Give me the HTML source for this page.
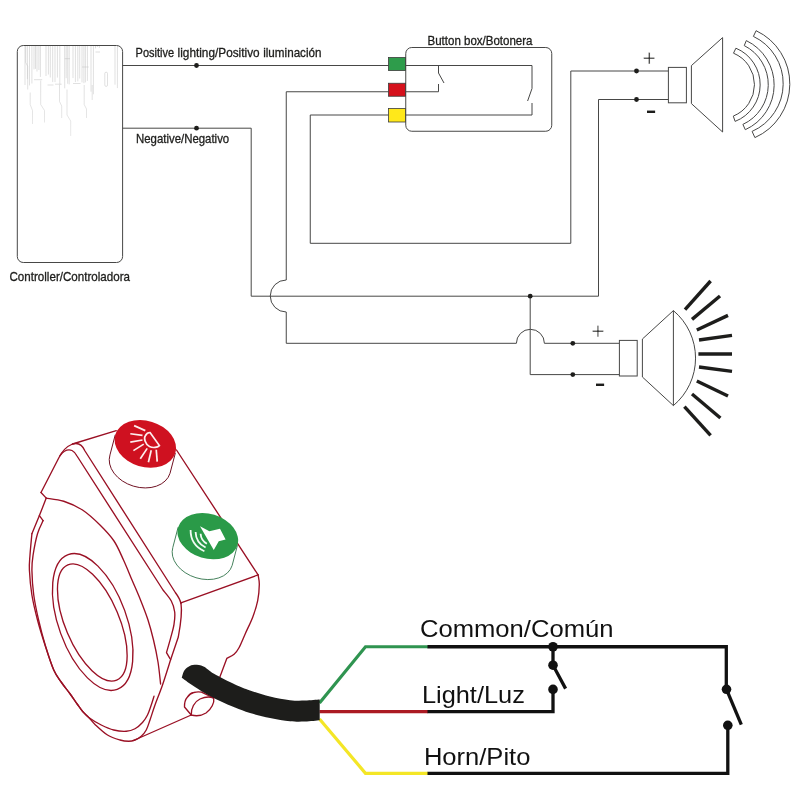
<!DOCTYPE html>
<html lang="en">
<head>
<meta charset="utf-8">
<title>Wiring diagram</title>
<style>
html,body{margin:0;padding:0;background:#fff;}
body{width:800px;height:800px;overflow:hidden;}
svg{display:block;}
svg{will-change:transform;}
.w{fill:none;stroke:#474746;stroke-width:1;}
.t1{font-family:"Liberation Sans",sans-serif;font-size:12.2px;fill:#1d1d1b;stroke:#1d1d1b;stroke-width:0.3px;}
.t2{font-family:"Liberation Sans",sans-serif;font-size:24.5px;fill:#111;}
.pm{font-family:"Liberation Sans",sans-serif;font-size:23px;fill:#1d1d1b;stroke:#fff;stroke-width:0.45px;}
.mn{font-family:"Liberation Sans",sans-serif;font-size:20px;font-weight:bold;fill:#1d1d1b;}
.k{fill:none;stroke:#111;stroke-width:3.3;stroke-linejoin:miter;}
.r{fill:none;stroke:#9a1024;stroke-width:1.35;stroke-linejoin:round;stroke-linecap:round;}
.ray{fill:none;stroke:#1d1d1b;stroke-width:3.4;}
</style>
</head>
<body>
<svg width="800" height="800" viewBox="0 0 800 800">
<rect width="800" height="800" fill="#fff"/>
<defs><linearGradient id="pg" gradientUnits="userSpaceOnUse" x1="0" y1="45" x2="0" y2="135"><stop offset="0" stop-color="#bcbcbc"/><stop offset="0.5" stop-color="#c4c4c4"/><stop offset="1" stop-color="#d2d2d2"/></linearGradient></defs>

<!-- ===== controller ===== -->
<g id="controller">
<g id="pcb" fill="none" stroke="url(#pg)" stroke-width="0.5">
<path d="M25.0 46.0V85.0M27.4 46.0V79.1M29.5 46.0V85.4M31.9 46.0V83.5M34.0 46.0V69.4M35.5 46.0V68.9M37.0 46.0V71.5M38.9 46.0V70.0M40.4 46.0V76.9M46.0 46.0V76.0M48.4 46.0V74.5M50.3 46.0V77.5M52.7 46.0V82.1M55.0 46.0V82.1M57.4 46.0V77.6M59.8 46.0V84.8M64.7 46.0V88.3M66.2 46.0V78.2M67.7 46.0V83.8M69.2 46.0V84.4M73.0 46.0V78.1M75.4 46.0V82.1M77.8 46.0V81.4M79.7 46.0V78.5M82.0 46.0V82.4M83.9 46.0V83.2M85.4 46.0V82.4M87.4 46.0V80.9M91.0 46.0V91.7M93.4 46.0V94.3M95.5 46.0V48.4M97.4 46.0V47.0M99.4 46.0V47.8M115.0 46.0V84.7M117.4 46.0V88.1M25.7 46.0L25.7 62.5L27.7 66.2L27.7 89.5M30.2 92.5L30.2 104.5L32.5 110.5L32.5 124.0M40.7 80.5L40.7 104.5L44.5 110.5L44.5 122.5M59.5 85.0L59.5 101.5L61.7 106.0L61.7 118.0M67.0 89.5L67.0 115.0L70.7 121.0L70.7 136.0M84.2 85.0L84.2 104.5L86.5 109.0L86.5 118.0M92.2 85.0L92.2 100.0M47.5 85.0H53.5M34.0 79.7H42.2M73.0 83.5H80.5M55.0 84.2H61.7M64.7 58.7H70.0M95.5 52.0H100.0M82.0 67.0H88.7"/>
<rect x="104.8" y="72.2" width="2.7" height="14.2" rx="1.3"/>
</g>
<rect x="17.3" y="45.5" width="105.3" height="217" rx="6" ry="6" class="w"/>
</g>
<text class="t1" x="9.5" y="280.5" textLength="120.5" lengthAdjust="spacingAndGlyphs">Controller/Controladora</text>
<text class="t1" y="57"><tspan x="135.6" textLength="41.5" lengthAdjust="spacingAndGlyphs">Positive </tspan><tspan x="177.6" textLength="85.3" lengthAdjust="spacingAndGlyphs">lighting/Positivo </tspan><tspan x="263.2" textLength="58.3" lengthAdjust="spacingAndGlyphs">iluminación</tspan></text>
<text class="t1" x="136" y="142.8" textLength="93.2" lengthAdjust="spacingAndGlyphs">Negative/Negativo</text>
<text class="t1" x="427.5" y="45" textLength="105" lengthAdjust="spacingAndGlyphs">Button box/Botonera</text>

<!-- ===== wires ===== -->
<g id="wires" class="w">
<path d="M122.5 65.5H388.5"/>
<path d="M122.5 128.2H251.2V296.2H598.5V99.5H668.4"/>
<path d="M388.5 91.75H286.25V280A16 16 0 0 0 286.25 312V343.3H516.4A14 14 0 0 1 544.4 343.3H619"/>
<path d="M388.5 115H310.25V243.3H570.8V71H668.4"/>
<path d="M530.2 296.2V374.6H619"/>
</g>
<g id="dots" fill="#1d1d1b">
<circle cx="196.5" cy="65.5" r="2.4"/>
<circle cx="196.5" cy="128.2" r="2.4"/>
<circle cx="636.5" cy="71" r="2.4"/>
<circle cx="636.5" cy="99.5" r="2.4"/>
<circle cx="530.2" cy="296.2" r="2.4"/>
<circle cx="572.8" cy="343.3" r="2.4"/>
<circle cx="572.8" cy="374.6" r="2.4"/>
</g>

<!-- ===== button box ===== -->
<g id="buttonbox">
<rect x="405.75" y="47.5" width="146" height="83.75" rx="6" ry="6" class="w"/>
<rect x="388.5" y="57.5" width="17" height="13" fill="#2e9c4b" stroke="#3c3c3b" stroke-width="0.8"/>
<rect x="388.5" y="83.25" width="17" height="13" fill="#d5111c" stroke="#3c3c3b" stroke-width="0.8"/>
<rect x="388.5" y="108.5" width="17" height="13.5" fill="#ffe81a" stroke="#3c3c3b" stroke-width="0.8"/>
<g class="w">
<path d="M405.5 65.5H532V88.5"/>
<path d="M438.5 65.5V73L444 83"/>
<path d="M405.5 91.75H438.5V84"/>
<path d="M532 88.5L527.6 101"/>
<path d="M405.5 115H532V103"/>
</g>
</g>

<!-- ===== horn ===== -->
<g id="horn" class="w">
<rect x="668.4" y="67.4" width="18" height="35.4"/>
<path d="M691.4 65.6L722.6 37.6V132L691.4 103.6Z"/>
<path d="M733.5 53.2A34 34 0 0 1 733.3 116.1L735.1 121.4A39.5 39.5 0 0 0 735.9 48.2Z"/>
<path d="M744.25 45.6A43.8 43.8 0 0 1 742.9 124.4L745.3 129.7A49.2 49.2 0 0 0 746.3 40.6Z"/>
<path d="M753.4 36.4A52.3 52.3 0 0 1 752.1 131.4L754.9 137.6A58.8 58.8 0 0 0 756.1 30.7Z"/>
</g>
<text class="pm" x="649.2" y="66.3" text-anchor="middle">+</text>
<text class="mn" transform="translate(651 117.3) scale(1.6 1)" text-anchor="middle">-</text>

<!-- ===== lamp ===== -->
<g id="lamp" class="w">
<rect x="619.4" y="340.4" width="17.8" height="35.6"/>
<path d="M642.4 339L673.4 310.6V405.6L642.4 377Z"/>
<path d="M673.4 310.6A62 62 0 0 1 673.4 405.6"/>
</g>
<g id="rays" class="ray">
<path d="M685 309.6L710.6 281"/>
<path d="M692 319.4L720 296"/>
<path d="M696.8 330L728 315.4"/>
<path d="M699 340L732 335.4"/>
<path d="M698.4 354H732"/>
<path d="M699 367L732 371.4"/>
<path d="M696.8 381L728 396"/>
<path d="M692 394L720.4 418"/>
<path d="M684.4 406.6L710.6 435.4"/>
</g>
<text class="pm" x="598" y="339.4" text-anchor="middle">+</text>
<text class="mn" transform="translate(600 390) scale(1.6 1)" text-anchor="middle">-</text>

<!-- ===== bottom schematic ===== -->
<g id="schem">
<path d="M319.5 703L365.5 646.75H428" fill="none" stroke="#2f9450" stroke-width="3.2"/>
<path d="M319.5 711.7H428" fill="none" stroke="#ab1a23" stroke-width="3.2"/>
<path d="M319.5 719L365.5 773.3H428" fill="none" stroke="#f4e626" stroke-width="3.2"/>
<g class="k">
<path d="M427.5 646.75H726.3V689.3"/>
<path d="M427.5 711.7H553V689.4"/>
<path d="M427.5 773.3H727.8V725.3"/>
<path d="M553 646.75V665.2L565.6 688.6"/>
<path d="M726.5 689.3L741.3 724.6"/>
</g>
<g fill="#111">
<circle cx="553" cy="646.75" r="4.8"/>
<circle cx="553" cy="665.2" r="4.8"/>
<circle cx="553" cy="689.4" r="4.8"/>
<circle cx="726.5" cy="689.3" r="4.8"/>
<circle cx="727.8" cy="725.3" r="4.8"/>
</g>
<text class="t2" x="420" y="636.5" textLength="193.5" lengthAdjust="spacingAndGlyphs">Common/Común</text>
<text class="t2" x="421.9" y="702.5" textLength="103" lengthAdjust="spacingAndGlyphs">Light/Luz</text>
<text class="t2" x="423.9" y="765" textLength="106.5" lengthAdjust="spacingAndGlyphs">Horn/Pito</text>
</g>

<!-- ===== device drawing ===== -->
<g id="device">
<g class="r">
<path d="M41 492.5L59 457.5Q64 447.5 72.5 444L116.25 430.6"/>
<path d="M72.5 444Q81 441.5 85 451L175.3 592.5Q179.8 598.5 181 603.5"/>
<path d="M60 455.6Q66 448 72 450.5Q75 452 77 456L163 590C164.38 591.83 169.35 597.33 171.30 601.00C173.25 604.67 174.25 608.10 174.70 612.00C175.15 615.90 174.68 620.05 174.00 624.40C173.32 628.75 171.85 633.40 170.60 638.10C169.35 642.80 167.18 650.18 166.50 652.60L170 658.6"/>
<path d="M181 603.5Q182.6 614 178.3 637L170.6 659.75"/>
<path d="M41 492.5L46.25 498.1"/>
<path d="M46.25 498.10C49.17 498.62 57.71 499.27 63.75 501.25C69.79 503.23 76.46 506.04 82.50 510.00C88.54 513.96 94.75 519.83 100.00 525.00C105.25 530.17 110.08 535.17 114.00 541.00C117.92 546.83 120.50 553.50 123.50 560.00C126.50 566.50 129.17 573.33 132.00 580.00C134.83 586.67 137.83 593.33 140.50 600.00C143.17 606.67 145.83 613.33 148.00 620.00C150.17 626.67 151.83 633.00 153.50 640.00C155.17 647.00 156.82 654.67 158.00 662.00C159.18 669.33 160.17 680.33 160.60 684.00"/>
<path d="M46.25 498.1L39.4 515.6L31.9 533.75"/>
<path d="M31.90 533.75C31.58 537.29 30.42 548.96 30.00 555.00C29.58 561.04 29.08 563.33 29.40 570.00C29.72 576.67 30.55 586.67 31.90 595.00C33.25 603.33 35.32 611.67 37.50 620.00C39.68 628.33 42.29 636.67 45.00 645.00C47.71 653.33 51.00 663.75 53.75 670.00C56.50 676.25 58.79 678.54 61.50 682.50C64.21 686.46 67.33 690.08 70.00 693.75C72.67 697.42 75.42 701.58 77.50 704.50C79.58 707.42 80.62 709.08 82.50 711.25C84.38 713.42 86.67 715.31 88.75 717.50C90.83 719.69 91.88 721.48 95.00 724.40C98.12 727.32 103.33 732.40 107.50 735.00C111.67 737.60 116.46 738.96 120.00 740.00C123.54 741.04 126.25 741.25 128.75 741.25C131.25 741.25 132.92 740.83 135.00 740.00C137.08 739.17 139.38 737.92 141.25 736.25C143.12 734.58 144.79 732.71 146.25 730.00C147.71 727.29 148.54 724.17 150.00 720.00C151.46 715.83 152.92 710.83 155.00 705.00C157.08 699.17 159.90 692.54 162.50 685.00C165.10 677.46 169.25 663.96 170.60 659.75"/>
<path d="M133.5 740.5L191.25 715"/>
<path d="M39.4 515.6L43.1 520.6"/>
<path d="M43.10 520.60C42.17 522.79 39.17 528.02 37.50 533.75C35.83 539.48 34.03 548.96 33.10 555.00C32.17 561.04 31.79 563.33 31.90 570.00C32.01 576.67 32.63 586.67 33.75 595.00C34.87 603.33 36.69 611.67 38.60 620.00C40.51 628.33 42.68 636.67 45.20 645.00C47.73 653.33 51.03 663.75 53.75 670.00C56.47 676.25 58.79 678.54 61.50 682.50C64.21 686.46 67.33 690.08 70.00 693.75C72.67 697.42 75.42 701.58 77.50 704.50C79.58 707.42 80.62 709.08 82.50 711.25C84.38 713.42 85.62 715.21 88.75 717.50C91.88 719.79 97.08 722.92 101.25 725.00C105.42 727.08 109.58 728.96 113.75 730.00C117.92 731.04 122.71 731.46 126.25 731.25C129.79 731.04 132.29 730.21 135.00 728.75C137.71 727.29 140.42 724.79 142.50 722.50C144.58 720.21 146.04 717.92 147.50 715.00C148.96 712.08 150.17 708.12 151.25 705.00C152.33 701.88 153.54 697.71 154.00 696.25"/>
<path d="M176.5 450L258.1 574.9"/>
<path d="M258.1 574.9L180.9 602.8"/>
<path d="M258.10 574.90C258.30 576.48 259.37 580.10 259.30 584.40C259.23 588.70 258.78 595.28 257.70 600.70C256.62 606.12 254.83 611.48 252.80 616.90C250.77 622.32 247.80 628.05 245.50 633.20C243.20 638.35 240.90 644.28 239.00 647.80C237.10 651.32 236.13 652.53 234.10 654.30C232.07 656.07 228.02 657.72 226.80 658.40L219.5 677.9"/>
<path d="M191.25 715L184.5 707Q184.3 700.5 187.5 697Q190 693.3 193.75 692.5Q198 691.3 201.5 692.2L213.5 697.8"/>
<path d="M191.25 715C190.8 708.5 194.5 701.5 200 699C205 696.8 210 696.6 213.7 698C214.6 702.5 211.5 709 206 713C201.5 715.8 196 716.3 191.25 715Z"/>
<ellipse cx="92.7" cy="622" rx="71.7" ry="34" transform="rotate(70 92.7 622)"/>
<ellipse cx="92.3" cy="622.5" rx="62.5" ry="27" transform="rotate(67 92.3 622.5)"/>
</g>
<path d="M115.27 434.72L109.97 454.92A31.40 23.00 17.0 0 0 170.03 473.28L175.33 453.08" fill="#fff" stroke="#701223" stroke-width="1"/>
<ellipse cx="145.3" cy="443.9" rx="31.4" ry="23" transform="rotate(17 145.3 443.9)" fill="#cf1120"/>
<g fill="none" stroke="#fdeeee" stroke-width="1.7" stroke-linecap="butt">
<path d="M150 432.5L159.4 445.6C157.5 447.5 153 448.3 149.5 446.5C145 444 143.5 438 145.5 435.5C146.5 433.5 148 432.5 150 432.5Z"/>
<path d="M134.10 425.60L145.30 430.60"/>
<path d="M130.30 433.75L142.50 435.30"/>
<path d="M130.30 442.20L142.50 440.00"/>
<path d="M133.40 450.60L143.75 444.10"/>
<path d="M140.30 458.75L147.20 448.40"/>
<path d="M148.40 462.20L151.25 450.30"/>
<path d="M157.20 461.60L156.25 449.70"/>
</g>
<path d="M178.15 527.14L172.85 547.34A31.00 22.30 17.0 0 0 232.15 565.46L237.45 545.26" fill="#fff" stroke="#3b7a53" stroke-width="0.95"/>
<ellipse cx="207.8" cy="536.2" rx="31" ry="22.3" transform="rotate(17 207.8 536.2)" fill="#2a9a48"/>
<path d="M200 526.25L209.4 531.25L220 528.75L225.6 539.4L218.75 541.25L213.75 550Z" fill="#fff"/>
<g fill="none" stroke="#f2fbf4" stroke-width="1.8">
<path d="M190.6 530Q190.5 545 204.4 551.25"/>
<path d="M195.6 531.9Q195.8 542.5 205.6 547.5"/>
<path d="M200.6 533.75Q201 540.5 206.9 543.75"/>
</g>
<path d="M181.75 677.75C182.12 676.62 182.88 672.84 184.00 671.00C185.12 669.16 186.75 667.73 188.50 666.70C190.25 665.67 192.00 664.83 194.50 664.80C197.00 664.77 200.25 665.00 203.50 666.50C206.75 668.00 208.75 670.80 214.00 673.80C219.25 676.80 229.00 681.72 235.00 684.50C241.00 687.28 244.17 688.50 250.00 690.50C255.83 692.50 263.33 694.88 270.00 696.50C276.67 698.12 284.17 699.52 290.00 700.20C295.83 700.88 300.05 700.70 305.00 700.60C309.95 700.50 317.25 699.77 319.70 699.60L319.70 720.30C317.25 720.52 309.95 721.43 305.00 721.60C300.05 721.77 295.83 721.90 290.00 721.30C284.17 720.70 276.67 719.38 270.00 718.00C263.33 716.62 255.83 714.75 250.00 713.00C244.17 711.25 240.00 709.50 235.00 707.50C230.00 705.50 225.00 703.38 220.00 701.00C215.00 698.62 209.67 695.87 205.00 693.20C200.33 690.53 195.88 687.58 192.00 685.00C188.12 682.42 183.46 678.96 181.75 677.75Z" fill="#1d1d1b"/>
</g>
</svg>
</body>
</html>
